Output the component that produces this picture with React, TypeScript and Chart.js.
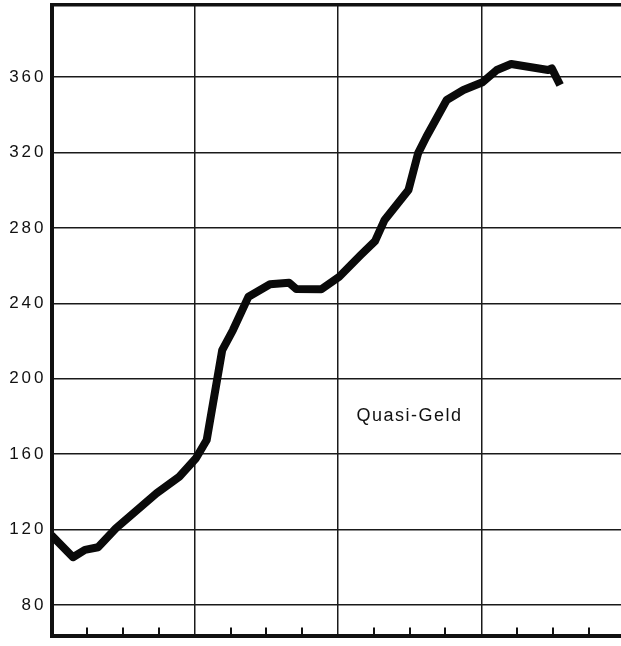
import React, { useEffect, useRef } from "react";
import { Chart, registerables } from "chart.js";

Chart.register(...registerables);

// Months since the start of the first year (x) and amount (y)
const months = [0, 1.8, 2.8, 3.9, 5.4, 8.8, 10.7, 12.1, 13.0, 14.3, 15.2, 16.5, 18.3, 19.9, 20.5, 22.6, 24.1, 25.9, 27.1, 27.9, 29.9, 30.7, 31.4, 33.1, 34.5, 36.1, 37.3, 38.5, 41.6, 41.9, 42.6];
const quasiGeld = [117, 105.3, 109.2, 110.6, 120.7, 139.2, 148, 157.8, 167.5, 215.2, 225.8, 243.5, 250.1, 250.9, 247.6, 247.4, 254.1, 265.6, 273, 284.2, 300.1, 319.5, 328.3, 347.8, 353.1, 357.2, 363.7, 366.9, 363.7, 364.6, 355.8];

const yTicks = [80, 120, 160, 200, 240, 280, 320, 360];
const yearLines = [12, 24, 36];
const quarterTicks = [3, 6, 9, 15, 18, 21, 27, 30, 33, 39, 42, 45];
const seriesLabel = "Quasi-Geld";
const labelPos = { x: 25.55, y: 180 };

const X_MIN = 0;
const X_MAX = 47.7;
const Y_MIN = 63.8;
const Y_MAX = 398.2;

export default function App() {
  const ref = useRef<HTMLCanvasElement | null>(null);

  useEffect(() => {
    const canvas = ref.current;
    if (!canvas) return;

    const decor = {
      id: "decor",
      beforeLayout(chart: any) {
        chart.ctx.letterSpacing = "3px";
      },
      beforeDraw(chart: any) {
        const ctx = chart.ctx;
        ctx.save();
        ctx.fillStyle = "#ffffff";
        ctx.fillRect(0, 0, chart.width, chart.height);
        ctx.restore();
        ctx.letterSpacing = "3px";
      },
      afterDraw(chart: any) {
        const ctx = chart.ctx;
        const xs = chart.scales.x;
        const ys = chart.scales.y;
        const area = chart.chartArea;
        ctx.save();
        ctx.strokeStyle = "#111111";
        ctx.lineWidth = 2;
        for (const q of quarterTicks) {
          const px = Math.round(xs.getPixelForValue(q));
          ctx.beginPath();
          ctx.moveTo(px, area.bottom);
          ctx.lineTo(px, area.bottom - 8);
          ctx.stroke();
        }
        ctx.letterSpacing = "1.5px";
        ctx.fillStyle = "#111111";
        ctx.font = "18px 'Liberation Sans', Arial, sans-serif";
        ctx.textAlign = "left";
        ctx.textBaseline = "middle";
        ctx.fillText(seriesLabel, xs.getPixelForValue(labelPos.x), ys.getPixelForValue(labelPos.y));
        ctx.restore();
      },
    };

    const chart = new Chart(canvas, {
      type: "line",
      data: {
        datasets: [
          {
            label: seriesLabel,
            data: months.map((m, i) => ({ x: m, y: quasiGeld[i] })),
            borderColor: "#0a0a0a",
            borderWidth: 8,
            pointRadius: 0,
            tension: 0,
            borderJoinStyle: "round",
            borderCapStyle: "butt",
            clip: 0,
          } as any,
        ],
      },
      options: {
        animation: false,
        responsive: false,
        layout: { padding: { top: 5, bottom: 10.5, left: 0, right: 0 } },
        plugins: { legend: { display: false }, tooltip: { enabled: false } },
        scales: {
          x: {
            type: "linear",
            position: "bottom",
            min: X_MIN,
            max: X_MAX,
            afterBuildTicks: (s: any) => {
              s.ticks = yearLines.map((v) => ({ value: v }));
            },
            afterFit: (s: any) => {
              s.height = 0;
              s.paddingLeft = 0;
              s.paddingRight = 0;
            },
            ticks: { display: false },
            grid: { color: "#1a1a1a", lineWidth: 1.5, drawTicks: false },
            border: { display: true, color: "#111111", width: 4 },
          },
          xTop: {
            type: "linear",
            position: "top",
            min: X_MIN,
            max: X_MAX,
            afterFit: (s: any) => {
              s.height = 0;
              s.paddingLeft = 0;
              s.paddingRight = 0;
            },
            ticks: { display: false },
            grid: { drawOnChartArea: false, drawTicks: false },
            border: { display: true, color: "#111111", width: 3.5 },
          },
          y: {
            type: "linear",
            position: "left",
            min: Y_MIN,
            max: Y_MAX,
            afterBuildTicks: (s: any) => {
              s.ticks = yTicks.map((v) => ({ value: v }));
            },
            afterFit: (s: any) => {
              s.width = 51.5;
              s.paddingTop = 0;
              s.paddingBottom = 0;
            },
            ticks: {
              color: "#111111",
              padding: 5,
              font: { family: "'Liberation Sans', Arial, sans-serif", size: 17 },
              callback: (v: any) => String(v),
            },
            grid: { color: "#1a1a1a", lineWidth: 1.5, drawTicks: false },
            border: { display: true, color: "#111111", width: 4 },
          },
        },
      },
      plugins: [decor],
    } as any);

    return () => chart.destroy();
  }, []);

  return (
    <div style={{ position: "absolute", left: 0, top: 0, width: 621, height: 646, background: "#fff" }}>
      <canvas ref={ref} width={621} height={646} style={{ display: "block", width: 621, height: 646 }} />
    </div>
  );
}
